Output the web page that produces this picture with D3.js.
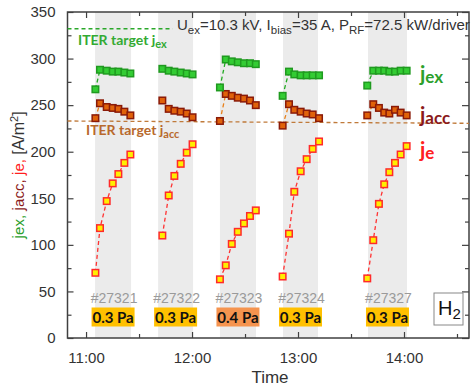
<!DOCTYPE html>
<html>
<head>
<meta charset="utf-8">
<script src="https://cdn.jsdelivr.net/npm/d3@7"></script>
<style>
  html, body { margin: 0; padding: 0; background: #fff; }
  svg { display: block; font-family: "Liberation Sans", Arial, sans-serif; }
</style>
</head>
<body>
<svg id="chart" width="473" height="387"></svg>
<script>
// time in minutes after 11:00, one array per shot
const shotIds = ['#27321', '#27322', '#27323', '#27324', '#27327'];
const pressures = ['0.3 Pa', '0.3 Pa', '0.4 Pa', '0.3 Pa', '0.3 Pa'];
const bandStart = [5.1, 40.8, 75.8, 111.5, 159.6];
const bandEnd = [25.5, 60.6, 96.2, 131.3, 181.7];

const times = [
    [5.3, 7.9, 11.7, 15.1, 18.3, 21.7, 25.1],
    [43.2, 46.8, 50.0, 53.6, 57.0, 60.3],
    [75.8, 79.1, 82.5, 85.9, 89.4, 92.8, 96.1],
    [111.3, 114.9, 117.9, 121.5, 124.9, 128.3, 131.9],
    [159.2, 162.6, 165.8, 168.8, 171.7, 174.9, 178.1, 181.5]
];
const jex = [
    [267, 288, 287, 286, 286, 285, 284],
    [289, 287, 286, 285, 284, 283],
    [269, 299, 297, 296, 295, 295, 294],
    [260, 286, 283, 282, 282, 282, 282],
    [271, 287, 287, 287, 286, 286, 287, 287]
];
const jacc = [
    [236, 252, 248, 247, 246, 243, 239],
    [255, 246, 244, 243, 241, 237],
    [233, 262, 260, 258, 257, 255, 250],
    [228, 251, 245, 243, 241, 240, 236],
    [239, 251, 247, 242, 241, 245, 242, 239]
];
const je = [
    [70, 118, 147, 166, 176, 188, 197],
    [110, 153, 174, 187, 199, 208],
    [63, 78, 101, 114, 123, 131, 137],
    [66, 112, 157, 179, 192, 203, 211],
    [64, 105, 144, 165, 178, 188, 197, 206]
];

const iterJex = 332;
const iterJacc = [233, 230.5]; // drawn a little tilted in the original

const yTicks = [0, 50, 100, 150, 200, 250, 300, 350];
const xTicks = [0, 60, 120, 180];
const xTickLabels = ['11:00', '12:00', '13:00', '14:00'];

const svg = d3.select('#chart');
const pLeft = 67.5, pRight = 469, pTop = 12, pBottom = 338;

const x = d3.scaleLinear().domain([-10.5, 216.8]).range([pLeft, pRight]);
const y = d3.scaleLinear().domain([0, 350]).range([pBottom, pTop]);

// grey bands for each shot
svg.append('g').selectAll('rect')
    .data(bandStart)
    .enter().append('rect')
    .attr('x', (d, i) => x(d))
    .attr('y', pTop)
    .attr('width', (d, i) => x(bandEnd[i]) - x(d))
    .attr('height', pBottom - pTop)
    .attr('fill', '#ebebeb');

// axes, ticks pointing inward
const axisColor = '#404040';
function styleAxis(g) {
    g.select('.domain').remove();
    g.selectAll('line').attr('stroke', axisColor).attr('stroke-width', 1.2);
    g.selectAll('text').attr('fill', '#333').attr('font-size', 15);
}

const minorX = d3.range(0, 211, 30).filter(v => v % 60 !== 0);
const minorY = d3.range(25, 350, 50);

svg.append('g').attr('transform', `translate(0,${pBottom})`)
    .call(d3.axisBottom(x).tickValues(xTicks).tickSize(-6).tickPadding(14)
        .tickFormat((d, i) => xTickLabels[i]))
    .call(styleAxis);
svg.append('g').attr('transform', `translate(0,${pBottom})`)
    .call(d3.axisBottom(x).tickValues(minorX).tickSize(-4).tickFormat(''))
    .call(styleAxis);
svg.append('g').attr('transform', `translate(0,${pTop})`)
    .call(d3.axisTop(x).tickValues(xTicks).tickSize(-6).tickFormat(''))
    .call(styleAxis);
svg.append('g').attr('transform', `translate(0,${pTop})`)
    .call(d3.axisTop(x).tickValues(minorX).tickSize(-4).tickFormat(''))
    .call(styleAxis);

svg.append('g').attr('transform', `translate(${pLeft},0)`)
    .call(d3.axisLeft(y).tickValues(yTicks).tickSize(-6).tickPadding(12))
    .call(styleAxis);
svg.append('g').attr('transform', `translate(${pLeft},0)`)
    .call(d3.axisLeft(y).tickValues(minorY).tickSize(-4).tickFormat(''))
    .call(styleAxis);
svg.append('g').attr('transform', `translate(${pRight},0)`)
    .call(d3.axisRight(y).tickValues(yTicks).tickSize(-7).tickFormat(''))
    .call(styleAxis);
svg.append('g').attr('transform', `translate(${pRight},0)`)
    .call(d3.axisRight(y).tickValues(minorY).tickSize(-4).tickFormat(''))
    .call(styleAxis);

svg.append('rect')
    .attr('x', pLeft).attr('y', pTop)
    .attr('width', pRight - pLeft).attr('height', pBottom - pTop)
    .attr('fill', 'none').attr('stroke', axisColor).attr('stroke-width', 1.5);

// ITER target lines
svg.append('line')
    .attr('x1', x(-10.5)).attr('x2', x(49))
    .attr('y1', y(iterJex)).attr('y2', y(iterJex))
    .attr('stroke', '#2aa82a').attr('stroke-width', 1.3).attr('stroke-dasharray', '4,3');
svg.append('line')
    .attr('x1', x(-10.5)).attr('x2', x(216.8))
    .attr('y1', y(iterJacc[0])).attr('y2', y(iterJacc[1]))
    .attr('stroke', '#c07a3a').attr('stroke-width', 1.3).attr('stroke-dasharray', '4,3');

const iterFont = 'Lato, "Open Sans", sans-serif';
const tEx = svg.append('text').attr('x', 78).attr('y', 45)
    .attr('font-family', iterFont).attr('font-weight', 700).attr('font-size', 14)
    .attr('fill', '#33aa33');
tEx.append('tspan').text('ITER target j');
tEx.append('tspan').attr('font-size', 11).attr('dy', 3).text('ex');

const tAcc = svg.append('text').attr('x', 86).attr('y', 135)
    .attr('font-family', iterFont).attr('font-weight', 700).attr('font-size', 14)
    .attr('fill', '#b8692c');
tAcc.append('tspan').text('ITER target j');
tAcc.append('tspan').attr('font-size', 11).attr('dy', 3).text('acc');

// series
const series = [
    { data: je, fill: '#ffee00', stroke: '#ff2a2a', line: '#ff3333' },
    { data: jacc, fill: '#e0620a', stroke: '#8a1a08', line: '#e8801a' },
    { data: jex, fill: '#33cc33', stroke: '#1f9a1f', line: '#22aa22' }
];
const line = d3.line().x(d => x(d[0])).y(d => y(d[1]));
const sq = 6.5;

series.forEach(s => {
    const g = svg.append('g');
    s.data.forEach((vals, i) => {
        const pts = vals.map((v, k) => [times[i][k], v]);
        g.append('path')
            .attr('d', line(pts))
            .attr('fill', 'none')
            .attr('stroke', s.line)
            .attr('stroke-width', 1.3)
            .attr('stroke-dasharray', '4,3');
        g.selectAll(null)
            .data(pts)
            .enter().append('rect')
            .attr('x', d => x(d[0]) - sq / 2)
            .attr('y', d => y(d[1]) - sq / 2)
            .attr('width', sq).attr('height', sq)
            .attr('fill', s.fill)
            .attr('stroke', s.stroke)
            .attr('stroke-width', 1.5);
    });
});

// series labels on the right
const labels = [
    { sub: 'ex', color: '#2ca02c', y: 81 },
    { sub: 'acc', color: '#8b1a1a', y: 122 },
    { sub: 'e', color: '#ff2020', y: 157 }
];
labels.forEach(l => {
    const t = svg.append('text').attr('x', 420).attr('y', l.y)
        .attr('font-family', iterFont).attr('font-weight', 700)
        .attr('fill', l.color).attr('font-size', 21);
    t.append('tspan').text('j');
    t.append('tspan').attr('font-size', 17).attr('dy', 2).text(l.sub);
});

// shot numbers and pressure boxes
const bandMid = bandStart.map((d, i) => (d + bandEnd[i]) / 2);
svg.append('g').selectAll('text')
    .data(shotIds)
    .enter().append('text')
    .attr('x', (d, i) => x(bandMid[i]) + 1)
    .attr('y', 303)
    .attr('text-anchor', 'middle')
    .attr('font-size', 14)
    .attr('fill', '#9a9a9a')
    .text(d => d);

const boxes = svg.append('g').selectAll('g')
    .data(pressures)
    .enter().append('g')
    .attr('transform', (d, i) => `translate(${x(bandMid[i])},317)`);
boxes.append('rect')
    .attr('x', -21.5).attr('y', -9.5)
    .attr('width', 43).attr('height', 19)
    .attr('fill', (d, i) => i === 2 ? '#f5944f' : '#ffc000');
boxes.append('text')
    .attr('text-anchor', 'middle')
    .attr('y', 5.5)
    .attr('font-family', iterFont)
    .attr('font-weight', 700)
    .attr('font-size', 15)
    .attr('fill', '#111')
    .text(d => d);

// H2 box
svg.append('rect')
    .attr('x', 434).attr('y', 293).attr('width', 29).attr('height', 32)
    .attr('fill', '#fff').attr('stroke', '#888').attr('stroke-width', 1);
const h2 = svg.append('text').attr('x', 438).attr('y', 315)
    .attr('font-size', 20).attr('fill', '#111');
h2.append('tspan').text('H');
h2.append('tspan').attr('font-size', 15).attr('dy', 4).text('2');

// conditions annotation
const cond = svg.append('text').attr('x', 177).attr('y', 30)
    .attr('font-size', 15).attr('fill', '#333');
[['U', 'ex', '=10.3 kV, '], ['I', 'bias', '=35 A, '], ['P', 'RF', '=72.5 kW/driver']]
    .forEach(p => {
        cond.append('tspan').attr('dy', 0).text(p[0]);
        cond.append('tspan').attr('font-size', 11.5).attr('dy', 4).text(p[1]);
        cond.append('tspan').attr('dy', -4).text(p[2]);
    });

// axis titles
svg.append('text')
    .attr('x', 270).attr('y', 383)
    .attr('text-anchor', 'middle')
    .attr('font-size', 17).attr('fill', '#333')
    .text('Time');

const yl = svg.append('text')
    .attr('transform', 'translate(24,175) rotate(-90)')
    .attr('text-anchor', 'middle')
    .attr('font-size', 16);
[['j', 'ex', ', ', '#2ca02c'], ['j', 'acc', ', ', '#8b1a1a'], ['j', 'e', ', ', '#ff2020']]
    .forEach(p => {
        yl.append('tspan').attr('fill', p[3]).attr('font-size', 17).text(p[0]);
        yl.append('tspan').attr('fill', p[3]).attr('font-size', 15).text(p[1] + p[2]);
    });
yl.append('tspan').attr('fill', '#333').text('[A/m');
yl.append('tspan').attr('fill', '#333').attr('font-size', 11).attr('dy', -6).text('2');
yl.append('tspan').attr('fill', '#333').attr('dy', 6).text(']');
</script>
</body>
</html>
